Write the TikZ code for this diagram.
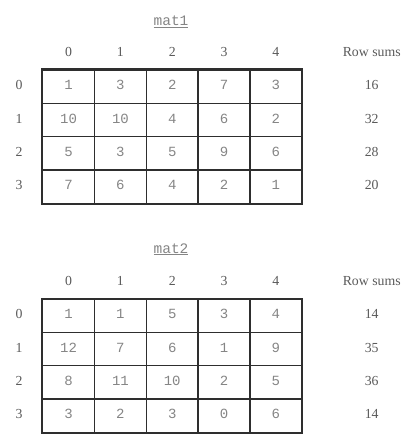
\documentclass[tikz,border=0pt]{standalone}
\usepackage{fontspec}
\setmainfont{Liberation Serif}
\setmonofont{Liberation Mono}
\begin{document}
\begin{tikzpicture}[x=1bp,y=-1bp,
  cellbox/.style={draw=gridc,line width=1.3bp,minimum width=51.8bp,minimum height=33.3bp,inner sep=0pt,
    text height=0.62em,text depth=0pt,font=\fontsize{14bp}{16bp}\ttfamily,text=monoc},
  lbl/.style={inner sep=0pt,text height=0.67em,text depth=0pt,font=\fontsize{13.8bp}{16bp}\selectfont,text=serifc},
  ttl/.style={inner sep=0pt,font=\fontsize{14.5bp}{16bp}\ttfamily,text=monoc,anchor=base}]
\definecolor{gridc}{HTML}{2E2E2E}
\definecolor{monoc}{HTML}{858585}
\definecolor{serifc}{HTML}{5A5A5A}
\useasboundingbox (0,0) rectangle (413,438);
\foreach \m/\T/\ty/\name in {1/70/26/mat1,2/299/253/mat2}{
  \node[ttl] (title\m) at (171,\ty) {\underline{\name}};
  \foreach \c in {0,...,4}{
    \node[lbl] (ch\m-\c) at ({42.7+51.8*\c+25.9},\T-16.7) {\c};
  }
  \node[lbl] (rs\m) at (371.7,\T-16.7) {Row sums};
}
\foreach \m/\T/\r/\s/\va/\vb/\vc/\vd/\ve in {
  1/70/0/16/1/3/2/7/3, 1/70/1/32/10/10/4/6/2, 1/70/2/28/5/3/5/9/6, 1/70/3/20/7/6/4/2/1,
  2/299/0/14/1/1/5/3/4, 2/299/1/35/12/7/6/1/9, 2/299/2/36/8/11/10/2/5, 2/299/3/14/3/2/3/0/6}{
  \node[lbl] (rl\m-\r) at (19,{\T+33.3*\r+16.65}) {\r};
  \node[lbl] (sum\m-\r) at (371.7,{\T+33.3*\r+16.65}) {\s};
  \foreach \c/\v in {0/\va,1/\vb,2/\vc,3/\vd,4/\ve}{
    \node[cellbox] (cell\m-\r-\c) at ({42.7+51.8*\c+25.9},{\T+33.3*\r+16.65}) {\v};
  }
}
\foreach \m in {1,2}{
  \draw[gridc,line width=1.7bp] (cell\m-0-0.north west) rectangle (cell\m-3-4.south east);
}
\end{tikzpicture}
\end{document}
